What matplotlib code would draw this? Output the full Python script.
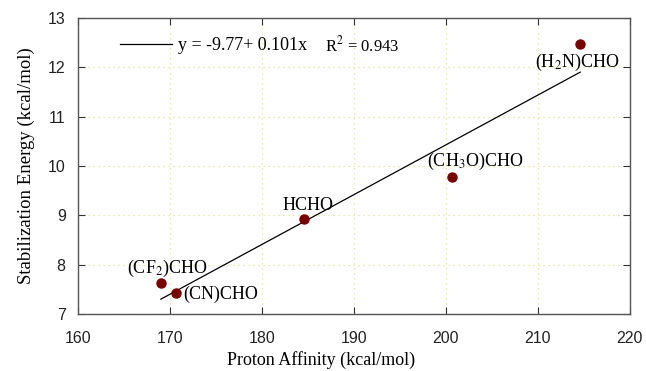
import matplotlib
matplotlib.use("Agg")
import matplotlib.pyplot as plt
import numpy as np

# data
names = ["(CF$_2$)CHO", "(CN)CHO", "HCHO", "(CH$_3$O)CHO", "(H$_2$N)CHO"]
pa = [169.0, 170.6, 184.6, 200.7, 214.6]
se = [7.63, 7.43, 8.93, 9.78, 12.47]
label_x = [165.3, 171.4, 182.2, 197.9, 209.7]
label_y = [7.83, 7.30, 9.11, 10.00, 12.01]

a_fit = -9.77
b_fit = 0.101
r2 = 0.943

plt.rcParams["font.family"] = ["Liberation Serif", "DejaVu Serif"]
plt.rcParams["mathtext.fontset"] = "stix"

fig = plt.figure(figsize=(6.46, 3.71), dpi=100)
ax = fig.add_axes([0.121, 0.154, 0.854, 0.797])

xf = np.linspace(min(pa), max(pa), 50)
ax.plot(xf, a_fit + b_fit * xf, color="black", lw=0.9,
        label=f"y = {a_fit}+ {b_fit}x")
ax.plot(pa, se, "o", color="#7a0000", ms=6.5, zorder=3)

for n, lx, ly in zip(names, label_x, label_y):
    ax.text(lx, ly, n, fontsize=13, ha="left", va="baseline")

ax.text(186.8, 12.33, f"R$^2$ = {r2}", fontsize=12, va="baseline")

leg = ax.legend(loc="upper left", bbox_to_anchor=(0.046, 0.99), frameon=False,
                fontsize=13, handlelength=2.9, handletextpad=0.33)

ax.set_xlim(160, 220)
ax.set_ylim(7, 13)
ax.set_xticks(np.arange(160, 221, 10))
ax.set_yticks(np.arange(7, 14, 1))
ax.grid(True, color="#e6e68a", linestyle=(0, (1, 3)), lw=0.9)
ax.tick_params(direction="in", top=True, right=True, length=5, color="#333333",
               labelsize=11.5, labelcolor="#222222")
ax.tick_params(axis="x", pad=12)
ax.tick_params(axis="y", pad=9)
for lab in ax.get_xticklabels() + ax.get_yticklabels():
    lab.set_family(["Liberation Sans", "DejaVu Sans"])
for s in ax.spines.values():
    s.set_color("#555555")
    s.set_linewidth(1.0)

ax.set_xlabel("Proton Affinity (kcal/mol)", fontsize=13)
ax.xaxis.set_label_coords(0.44, -0.125)
ax.set_ylabel("Stabilization Energy (kcal/mol)", fontsize=13.5, labelpad=9)

fig.savefig("out.png", dpi=100)
